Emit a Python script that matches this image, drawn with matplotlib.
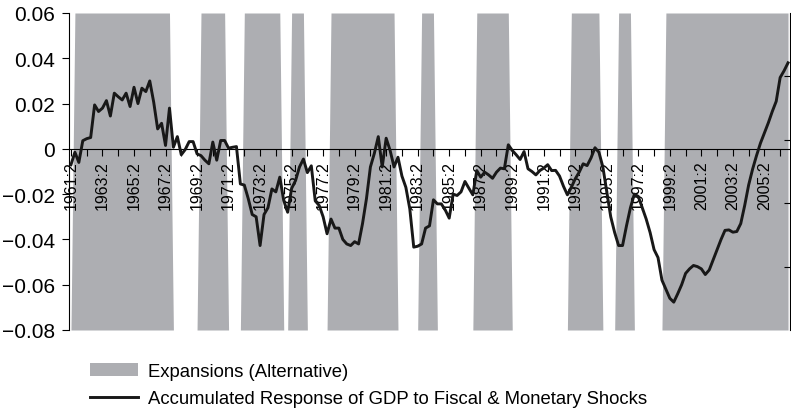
import numpy as np
import matplotlib
matplotlib.use("Agg")
import matplotlib.pyplot as plt

plt.rcParams['font.family'] = ['Liberation Sans', 'DejaVu Sans']

# quarters 1961:2 .. 2006:4
start_year = 1961
start_q = 2
n_quarters = 183

# accumulated response of GDP
response = [
    -0.007, -0.0015, -0.006, 0.0036, 0.0045, 0.005, 0.0194, 0.0165, 0.018, 0.0213,
    0.0145, 0.0246, 0.023, 0.0216, 0.0246, 0.0187, 0.0272, 0.020, 0.0268, 0.0253,
    0.030, 0.0206, 0.0088, 0.0113, 0.0015, 0.018, 0.0007, 0.0054, -0.0026, -0.0003,
    0.0032, 0.0032, -0.0022, -0.003, -0.005, -0.0066, 0.003, -0.005, 0.0037, 0.0037,
    0.0003, 0.0007, 0.001, -0.0155, -0.016, -0.022, -0.029, -0.030, -0.0427, -0.029,
    -0.026, -0.0177, -0.019, -0.0125, -0.0228, -0.028, -0.0175, -0.014, -0.008, -0.0045,
    -0.0105, -0.0075, -0.023, -0.025, -0.030, -0.0375, -0.031, -0.035, -0.035, -0.040,
    -0.042, -0.0427, -0.041, -0.042, -0.033, -0.022, -0.008, -0.002, 0.0054, -0.008,
    0.0047, -0.0007, -0.008, -0.0037, -0.012, -0.017, -0.0265, -0.0434, -0.043, -0.042,
    -0.035, -0.034, -0.0225, -0.0243, -0.0243, -0.027, -0.0306, -0.020, -0.0206, -0.019,
    -0.0144, -0.0174, -0.0203, -0.0096, -0.0125, -0.0103, -0.0115, -0.013, -0.0103, -0.0085,
    -0.0088, 0.0018, -0.0007, -0.0026, -0.0047, -0.0012, -0.0088, -0.010, -0.0115, -0.0096,
    -0.0085, -0.007, -0.0096, -0.0095, -0.012, -0.0165, -0.0203, -0.017, -0.0132, -0.0103,
    -0.0066, -0.0074, -0.004, 0.0005, -0.0015, -0.008, -0.019, -0.030, -0.037, -0.0427,
    -0.0427, -0.034, -0.026, -0.020, -0.021, -0.026, -0.031, -0.037, -0.0445, -0.048,
    -0.058, -0.062, -0.066, -0.0677, -0.064, -0.060, -0.055, -0.053, -0.0515, -0.052,
    -0.053, -0.0555, -0.0535, -0.049, -0.0445, -0.040, -0.036, -0.0358, -0.0368, -0.0365,
    -0.033, -0.025, -0.016, -0.009, -0.003, 0.0025, 0.007, 0.0115, 0.0165, 0.021,
    0.0315, 0.0345, 0.038,
]

# expansion periods (alternative dating), first and last quarter
expansions = [
    ("1961:3", "1967:3"), ("1969:3", "1971:1"), ("1972:2", "1974:3"),
    ("1975:2", "1976:1"), ("1977:4", "1981:4"), ("1983:3", "1984:2"),
    ("1987:1", "1989:1"), ("1993:1", "1994:4"), ("1996:1", "1996:4"),
    ("1999:1", "2006:4"),
]

quarters = []
for i in range(n_quarters):
    k = (start_q - 1) + i
    quarters.append("%d:%d" % (start_year + k // 4, k % 4 + 1))

x = np.arange(n_quarters)
expansion = np.zeros(n_quarters)
for a, b in expansions:
    expansion[quarters.index(a):quarters.index(b) + 1] = 1

fig = plt.figure(figsize=(7.91, 4.10), dpi=100)
ax = fig.add_axes([69 / 791, 79 / 410, 721 / 791, 317 / 410])
ax2 = ax.twinx()

# shaded expansions on secondary axis (0..1), behind the line
ax2.fill_between(x, 0, expansion, color='#adaeb2', linewidth=0,
                 label='Expansions (Alternative)')
ax2.set_ylim(0, 1)
ax2.set_yticks([0.2, 0.4, 0.6, 0.8])
ax2.set_yticklabels([])
ax2.tick_params(axis='y', direction='in', length=4, width=0.8)
for s in ['top', 'bottom', 'left']:
    ax2.spines[s].set_visible(False)
ax2.spines['right'].set_linewidth(0.8)

ax.set_zorder(ax2.get_zorder() + 1)
ax.patch.set_visible(False)

ax.plot(x, response, color='#181818', linewidth=2.1, zorder=3,
        label='Accumulated Response of GDP to Fiscal & Monetary Shocks')

ax.set_xlim(-0.5, n_quarters - 0.5)
ax.set_ylim(-0.08, 0.06)
ax.set_yticks(np.arange(-0.08, 0.061, 0.02))
ax.set_yticklabels(['\u22120.08', '\u22120.06', '\u22120.04', '\u22120.02', '0',
                    '0.02', '0.04', '0.06'])
ax.tick_params(axis='y', direction='out', length=5, width=0.8, labelsize=15, pad=5)

tick_pos = list(range(0, n_quarters, 4))
ax.set_xticks(tick_pos)
ax.set_xticklabels([quarters[p] if p % 8 == 0 else '' for p in tick_pos])
ax.tick_params(axis='x', direction='out', length=5, width=0.8, pad=3,
               labelsize=11.5, labelrotation=90)

ax.spines['bottom'].set_position(('data', 0))
ax.spines['bottom'].set_linewidth(0.8)
ax.spines['left'].set_linewidth(0.8)
ax.spines['top'].set_visible(False)
ax.spines['right'].set_visible(False)

h1, l1 = ax2.get_legend_handles_labels()
h2, l2 = ax.get_legend_handles_labels()
fig.legend(h1 + h2, l1 + l2, loc='upper left',
           bbox_to_anchor=(90 / 791, 1 - 364 / 410), frameon=False,
           fontsize=13.3, handlelength=2.6, handletextpad=0.55,
           labelspacing=0.55, borderpad=0, borderaxespad=0)

fig.savefig('out.png', dpi=100)
